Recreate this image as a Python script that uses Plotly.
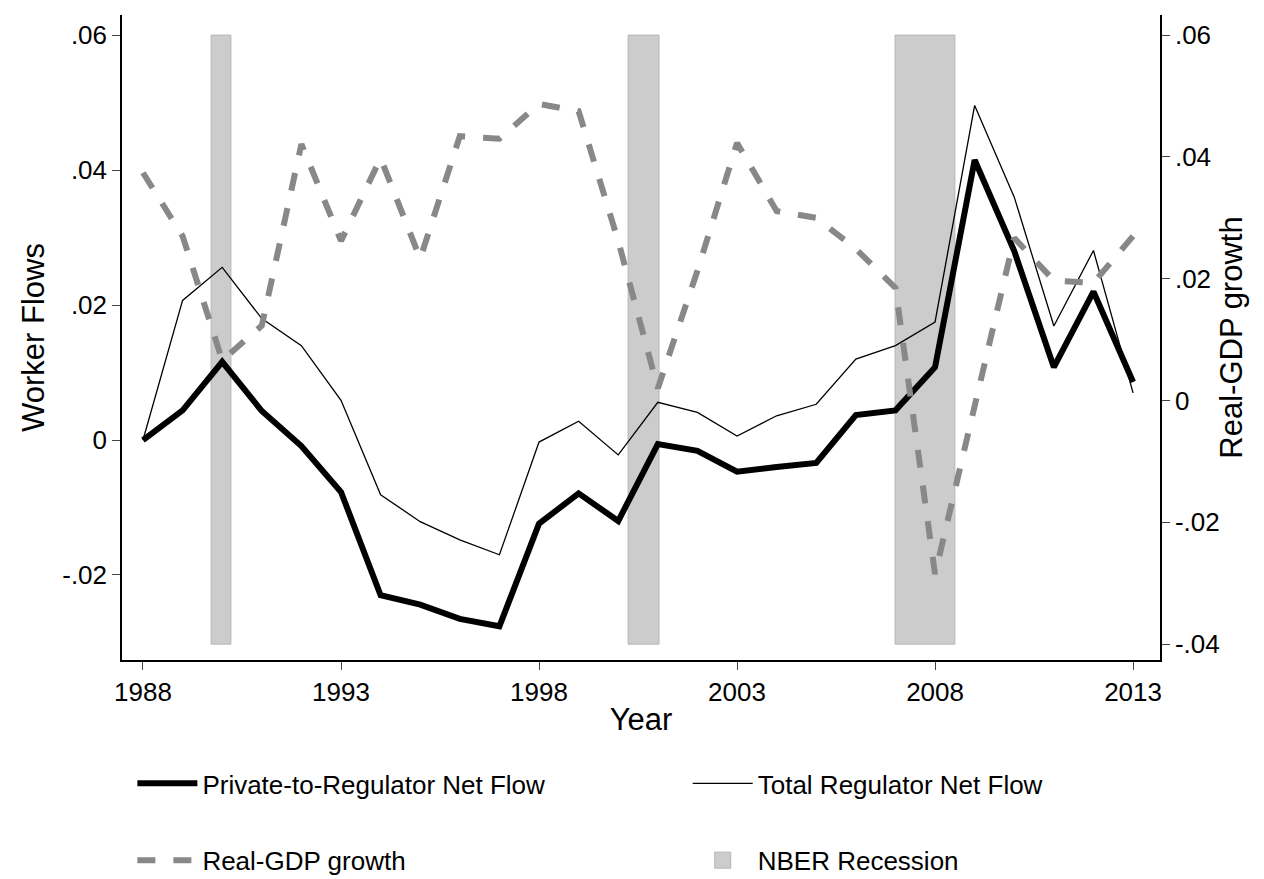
import plotly.graph_objects as go

years = list(range(1988, 2014))
private_net = [0, 0.0044, 0.0116, 0.0043, -0.0009, -0.0077, -0.023, -0.0244, -0.0265, -0.0276,
               -0.0124, -0.0079, -0.012, -0.0006, -0.0016, -0.0047, -0.004, -0.0034, 0.0037, 0.0044,
               0.0108, 0.0415, 0.028, 0.0108, 0.022, 0.0086]
total_net = [0, 0.0207, 0.0256, 0.018, 0.014, 0.0059, -0.0081, -0.0121, -0.0148, -0.017,
             -0.0003, 0.0028, -0.0022, 0.0056, 0.0041, 0.0006, 0.0036, 0.0053, 0.012, 0.014,
             0.0175, 0.0496, 0.036, 0.0169, 0.0281, 0.007]
gdp_growth = [0.0374, 0.027, 0.0066, 0.0123, 0.0421, 0.0262, 0.0398, 0.0233, 0.0434, 0.043,
              0.0487, 0.0475, 0.0262, 0.002, 0.0213, 0.0423, 0.0311, 0.030, 0.0249, 0.0185,
              -0.0285, -0.001, 0.0267, 0.0197, 0.0193, 0.027]
recessions = [(1989.72, 1990.22), (2000.25, 2001.03), (2006.99, 2008.5)]

font = dict(family="Liberation Sans, Arial, sans-serif", size=26, color="black")
fig = go.Figure()
for a, b in recessions:
    fig.add_shape(type="rect", xref="x", yref="y2", x0=a, x1=b, y0=-0.04, y1=0.06,
                  fillcolor="#cccccc", line=dict(color="#b5b5b5", width=1), layer="below")

fig.add_trace(go.Scatter(x=years, y=private_net, mode="lines", name="Private-to-Regulator Net Flow",
                         line=dict(color="black", width=6), legend="legend", legendgroup="a"))
fig.add_trace(go.Scatter(x=years, y=total_net, mode="lines", name="Total Regulator Net Flow",
                         line=dict(color="black", width=1.3), legend="legend2", legendgroup="b"))
fig.add_trace(go.Scatter(x=years, y=gdp_growth, mode="lines", name="Real-GDP growth", yaxis="y2",
                         line=dict(color="#888888", width=6, dash="dash"), legend="legend",
                         legendgroup="c"))
fig.add_trace(go.Scatter(x=[None], y=[None], mode="markers", name="NBER Recession",
                         marker=dict(symbol="square", size=32, color="#cccccc",
                                     line=dict(color="#b5b5b5", width=1)),
                         legend="legend2", legendgroup="d"))

leg = dict(orientation="v", yanchor="top", xanchor="left", itemwidth=60, tracegroupgap=40,
           font=dict(size=26), bgcolor="rgba(0,0,0,0)")
fig.update_layout(
    width=1264, height=879, plot_bgcolor="white", paper_bgcolor="white", font=font,
    margin=dict(l=114, r=112, t=7, b=227, autoexpand=False),
    xaxis=dict(range=[1987.47, 2013.68], tickvals=[1988, 1993, 1998, 2003, 2008, 2013],
               showline=True, linecolor="black", linewidth=1.5, ticks="outside", ticklen=8,
               showgrid=False, zeroline=False, title=dict(text="Year", standoff=2)),
    yaxis=dict(range=[-0.0326, 0.063], tickvals=[-0.02, 0, 0.02, 0.04, 0.06],
               ticktext=["-.02", "0", ".02", ".04", ".06"], showline=True, linecolor="black",
               linewidth=1.5, ticks="outside", ticklen=8, showgrid=False, zeroline=False,
               title=dict(text="Worker Flows", standoff=8)),
    yaxis2=dict(range=[-0.0426, 0.0633], tickvals=[-0.04, -0.02, 0, 0.02, 0.04, 0.06],
                ticktext=["-.04", "-.02", "0", ".02", ".04", ".06"], overlaying="y", side="right",
                showline=True, linecolor="black", linewidth=1.5, ticks="outside", ticklen=8,
                showgrid=False, zeroline=False, title=dict(text="Real-GDP growth", standoff=2)),
    legend=dict(leg, x=0.01, y=-0.155),
    legend2=dict(leg, x=0.545, y=-0.155),
)
fig.write_html("out.html")
